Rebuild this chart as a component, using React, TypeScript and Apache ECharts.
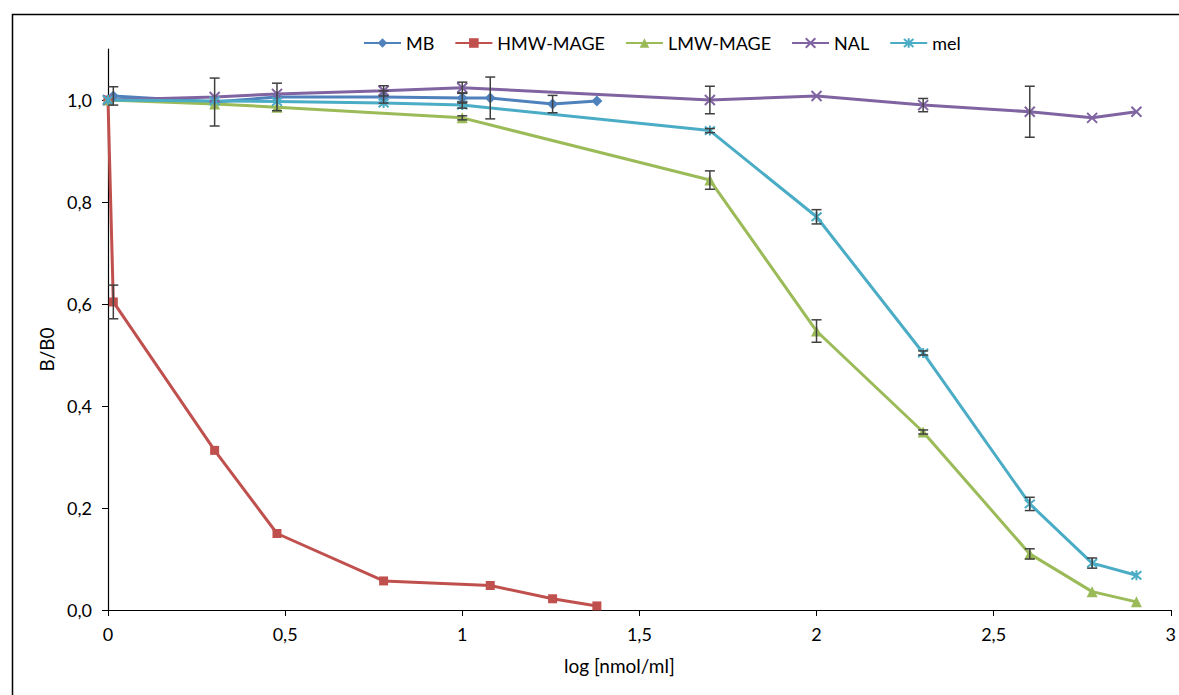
import React, { useEffect, useRef } from "react";
import * as echarts from "echarts";

// log concentration (x) and B/B0 ratio (y) with standard deviations
const mbX = [0, 0.015, 0.301, 0.477, 0.778, 1.0, 1.079, 1.255, 1.38];
const mbY = [1.0, 1.008, 0.996, 1.006, 1.006, 1.004, 1.004, 0.992, 0.998];
const mbErr = [0, 0.018, 0.047, 0.027, 0.012, 0.01, 0.041, 0.017, 0];

const hmwX = [0, 0.015, 0.301, 0.477, 0.778, 1.079, 1.255, 1.38];
const hmwY = [1.0, 0.604, 0.313, 0.15, 0.057, 0.048, 0.022, 0.008];
const hmwErr = [0, 0.033, 0, 0, 0, 0, 0, 0];

const lmwX = [0, 0.301, 0.477, 1.0, 1.699, 2.0, 2.301, 2.602, 2.778, 2.903];
const lmwY = [1.0, 0.992, 0.986, 0.965, 0.843, 0.547, 0.349, 0.11, 0.036, 0.016];
const lmwErr = [0, 0, 0, 0.004, 0.018, 0.022, 0.004, 0.01, 0, 0];

const nalX = [0, 0.301, 0.477, 0.778, 1.0, 1.699, 2.0, 2.301, 2.602, 2.778, 2.903];
const nalY = [1.0, 1.006, 1.012, 1.018, 1.024, 1.0, 1.008, 0.99, 0.977, 0.965, 0.977];
const nalErr = [0, 0, 0, 0.01, 0.011, 0.027, 0, 0.013, 0.05, 0, 0];

const melX = [0, 0.301, 0.477, 0.778, 1.0, 1.699, 2.0, 2.301, 2.602, 2.778, 2.903];
const melY = [1.0, 0.998, 0.997, 0.994, 0.99, 0.94, 0.771, 0.504, 0.208, 0.092, 0.068];
const melErr = [0, 0, 0, 0, 0.006, 0.004, 0.014, 0.004, 0.013, 0.01, 0];

const xTicks = [0, 0.5, 1, 1.5, 2, 2.5, 3];
const yTicks = [0, 0.2, 0.4, 0.6, 0.8, 1.0];

const FONT = "Lato, 'Open Sans', sans-serif";

const seriesDefs = [
  { name: "MB", xs: mbX, ys: mbY, errs: mbErr, color: "#4F81BD", symbol: "diamond", size: 11 },
  { name: "HMW-MAGE", xs: hmwX, ys: hmwY, errs: hmwErr, color: "#C0504D", symbol: "rect", size: 9 },
  { name: "LMW-MAGE", xs: lmwX, ys: lmwY, errs: lmwErr, color: "#9BBB59", symbol: "triangle", size: 11 },
  { name: "NAL", xs: nalX, ys: nalY, errs: nalErr, color: "#8064A2", symbol: "cross", size: 10 },
  { name: "mel", xs: melX, ys: melY, errs: melErr, color: "#4BACC6", symbol: "star", size: 10 },
];

// path markers for the "x" and asterisk glyphs
const crossPath = "path://M0,0 L10,10 M10,0 L0,10";
const starPath = "path://M0,0 L10,10 M10,0 L0,10 M5,-1 L5,11";

const fmt = (v: number) => {
  const s = Number.isInteger(v) ? String(v) : v.toFixed(1);
  return s.replace(".", ",");
};

export default function App() {
  const ref = useRef<HTMLDivElement>(null);

  useEffect(() => {
    if (!ref.current) return;
    const chart = echarts.init(ref.current, null, { renderer: "svg" });

    const errData: number[][] = [];
    seriesDefs.forEach((s) => {
      s.xs.forEach((x, i) => {
        if (s.errs[i] > 0) errData.push([x, s.ys[i] - s.errs[i], s.ys[i] + s.errs[i]]);
      });
    });

    const lineSeries = seriesDefs.map((s) => {
      const sym = s.symbol === "cross" ? crossPath : s.symbol === "star" ? starPath : s.symbol;
      const isStroke = s.symbol === "cross" || s.symbol === "star";
      return {
        name: s.name,
        type: "line",
        data: s.xs.map((x, i) => [x, s.ys[i]]),
        symbol: sym,
        symbolSize: s.size,
        showAllSymbol: true,
        lineStyle: { color: s.color, width: 3 },
        itemStyle: isStroke
          ? { color: s.color, borderColor: s.color, borderWidth: 2 }
          : { color: s.color, borderWidth: 0 },
        z: 2,
      };
    });

    chart.setOption({
      animation: false,
      backgroundColor: "#ffffff",
      textStyle: { fontFamily: FONT },
      legend: {
        top: 29,
        left: 358,
        itemWidth: 37,
        itemHeight: 12,
        itemGap: 20,
        textStyle: { fontSize: 18, color: "#000", fontFamily: FONT },
        data: seriesDefs.map((s) => s.name),
      },
      grid: { left: 108, right: 5, top: 49, bottom: 85 },
      xAxis: {
        type: "value",
        min: 0,
        max: 3,
        interval: 0.5,
        name: "log [nmol/ml]",
        nameLocation: "middle",
        nameGap: 46,
        nameTextStyle: { fontSize: 19, color: "#000", fontFamily: FONT, padding: [0, 40, 0, 0] },
        axisLine: { lineStyle: { color: "#000", width: 1.2 } },
        axisTick: { show: true, length: 6, lineStyle: { color: "#000" }, customValues: xTicks },
        axisLabel: {
          fontSize: 18,
          color: "#000",
          margin: 15,
          fontFamily: FONT,
          customValues: xTicks,
          formatter: (v: number) => fmt(v),
        },
        splitLine: { show: false },
      },
      yAxis: {
        type: "value",
        min: 0,
        max: 1.1,
        interval: 0.2,
        name: "B/B0",
        nameLocation: "middle",
        nameGap: 52,
        nameRotate: 90,
        nameTextStyle: { fontSize: 19, color: "#000", fontFamily: FONT, padding: [0, 40, 0, 0] },
        axisLine: { show: true, lineStyle: { color: "#000", width: 1.2 } },
        axisTick: { show: true, length: 6, lineStyle: { color: "#000" }, customValues: yTicks },
        axisLabel: {
          fontSize: 18,
          color: "#000",
          margin: 16,
          fontFamily: FONT,
          customValues: yTicks,
          formatter: (v: number) => v.toFixed(1).replace(".", ","),
        },
        splitLine: { show: false },
      },
      graphic: [
        {
          type: "rect",
          left: 10,
          top: 12,
          shape: { x: 0, y: 0, width: 1200, height: 720 },
          style: { fill: "none", stroke: "#000", lineWidth: 1.5 },
          silent: true,
          z: 0,
        },
      ],
      series: [
        ...lineSeries,
        {
          name: "errors",
          type: "custom",
          data: errData,
          z: 3,
          renderItem: (params: any, api: any) => {
            const x = api.value(0);
            const lo = api.coord([x, api.value(1)]);
            const hi = api.coord([x, api.value(2)]);
            const cap = 5;
            const st = { stroke: "#404040", lineWidth: 1.5 };
            return {
              type: "group",
              children: [
                { type: "line", shape: { x1: lo[0], y1: lo[1], x2: hi[0], y2: hi[1] }, style: st },
                { type: "line", shape: { x1: lo[0] - cap, y1: lo[1], x2: lo[0] + cap, y2: lo[1] }, style: st },
                { type: "line", shape: { x1: hi[0] - cap, y1: hi[1], x2: hi[0] + cap, y2: hi[1] }, style: st },
              ],
            };
          },
        },
      ],
    });

    return () => chart.dispose();
  }, []);

  return (
    <div
      ref={ref}
      style={{ position: "absolute", left: 0, top: 0, width: 1179, height: 695 }}
    />
  );
}
